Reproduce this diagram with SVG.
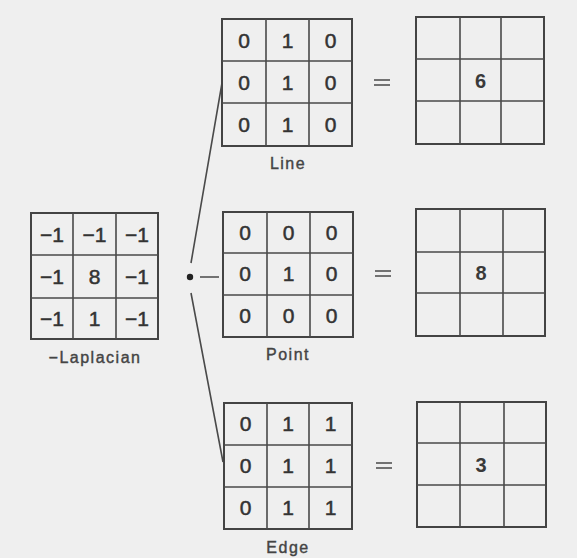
<svg xmlns="http://www.w3.org/2000/svg" width="577" height="558" viewBox="0 0 577 558">
<style>
.g{fill:none;stroke:#4a4a4a;stroke-width:1.6}
.o{fill:none;stroke:#444;stroke-width:2}
.n{font-family:"Liberation Sans",Arial,sans-serif;font-size:21px;fill:#333;stroke:#333;stroke-width:0.5;text-anchor:middle}
.r{font-family:"Liberation Sans",Arial,sans-serif;font-size:20px;font-weight:bold;fill:#3a3a3a;text-anchor:middle}
.l{font-family:"Liberation Sans",Arial,sans-serif;font-size:16px;fill:#444;stroke:#444;stroke-width:0.4;text-anchor:middle;letter-spacing:1.5px}
.c{stroke:#4a4a4a;stroke-width:1.6;fill:none}
</style>
<rect width="577" height="558" fill="#efefef"/>
<g id="laplacian">
<rect class="o" x="31" y="213" width="127" height="126"/>
<path class="g" d="M73 213V339M116 213V339M31 255H158M31 298H158"/>
<text class="n" x="52" y="242">−1</text><text class="n" x="94.5" y="242">−1</text><text class="n" x="137" y="242">−1</text>
<text class="n" x="52" y="284">−1</text><text class="n" x="94.5" y="284">8</text><text class="n" x="137" y="284">−1</text>
<text class="n" x="52" y="326">−1</text><text class="n" x="94.5" y="326">1</text><text class="n" x="137" y="326">−1</text>
<text class="l" x="95" y="363">−Laplacian</text>
</g>
<g id="connectors">
<circle cx="190" cy="277" r="3.2" fill="#222"/>
<path class="c" d="M191 263L222 83M200 277H219M191 293L223 462"/>
<path class="c" d="M374 80H390M374 85H390M375 271H391M375 276H391M376 463H392M376 468H392"/>
</g>
<g id="line">
<rect class="o" x="222" y="19" width="130" height="127"/>
<path class="g" d="M266 19V146M309 19V146M222 61H352M222 103H352"/>
<text class="n" x="244" y="48">0</text><text class="n" x="287.5" y="48">1</text><text class="n" x="330.5" y="48">0</text>
<text class="n" x="244" y="90">0</text><text class="n" x="287.5" y="90">1</text><text class="n" x="330.5" y="90">0</text>
<text class="n" x="244" y="132">0</text><text class="n" x="287.5" y="132">1</text><text class="n" x="330.5" y="132">0</text>
<text class="l" x="288" y="169">Line</text>
</g>
<g id="point">
<rect class="o" x="223" y="212" width="130" height="125"/>
<path class="g" d="M267 212V337M310 212V337M223 253H353M223 295H353"/>
<text class="n" x="245" y="240">0</text><text class="n" x="288.5" y="240">0</text><text class="n" x="331.5" y="240">0</text>
<text class="n" x="245" y="281">0</text><text class="n" x="288.5" y="281">1</text><text class="n" x="331.5" y="281">0</text>
<text class="n" x="245" y="323">0</text><text class="n" x="288.5" y="323">0</text><text class="n" x="331.5" y="323">0</text>
<text class="l" x="288" y="360">Point</text>
</g>
<g id="edge">
<rect class="o" x="224" y="403" width="128" height="126"/>
<path class="g" d="M267 403V529M309 403V529M224 445H352M224 487H352"/>
<text class="n" x="245.5" y="431">0</text><text class="n" x="288" y="431">1</text><text class="n" x="330.5" y="431">1</text>
<text class="n" x="245.5" y="473">0</text><text class="n" x="288" y="473">1</text><text class="n" x="330.5" y="473">1</text>
<text class="n" x="245.5" y="515">0</text><text class="n" x="288" y="515">1</text><text class="n" x="330.5" y="515">1</text>
<text class="l" x="288" y="553">Edge</text>
</g>
<g id="result-line">
<rect class="o" x="416" y="17" width="128" height="127"/>
<path class="g" d="M460 17V144M501 17V144M416 59H544M416 101H544"/>
<text class="r" x="480.5" y="88">6</text>
</g>
<g id="result-point">
<rect class="o" x="416" y="209" width="129" height="127"/>
<path class="g" d="M460 209V336M503 209V336M416 252H545M416 293H545"/>
<text class="r" x="481" y="280">8</text>
</g>
<g id="result-edge">
<rect class="o" x="417" y="402" width="129" height="125"/>
<path class="g" d="M460 402V527M504 402V527M417 443H546M417 485H546"/>
<text class="r" x="481" y="472">3</text>
</g>
</svg>
